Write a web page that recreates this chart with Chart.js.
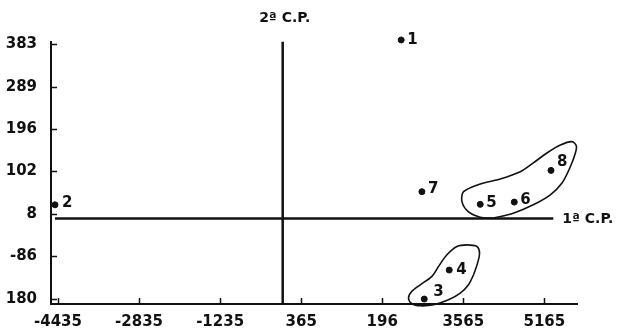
<!DOCTYPE html>
<html>
<head>
<meta charset="utf-8">
<script src="https://cdn.jsdelivr.net/npm/chart.js@4.4.1/dist/chart.umd.min.js"></script>
<style>
    html, body { margin: 0; padding: 0; background: #fff; }
</style>
</head>
<body>
<canvas id="pcaChart" width="619" height="330"></canvas>
<script>
// Scores of the 8 samples on the first two principal components
const pointLabels = ['1', '2', '3', '4', '5', '6', '7', '8'];
const pointX = [2339, -4494, 2794, 3287, 3899, 4571, 2748, 5296];
const pointY = [392, 28, -180, -116, 29, 34, 57, 104];

// Axis ticks (labels as printed in the original figure)
const xTickValues = [-4435, -2835, -1235, 365, 1965, 3565, 5165];
const xTickLabels = ['-4435', '-2835', '-1235', '365', '196', '3565', '5165'];
const yTickValues = [-180, -86, 8, 102, 196, 289, 383];
const yTickLabels = ['180', '-86', '8', '102', '196', '289', '383'];

// Component axes drawn through the origin
const pc1LineX = [-4494, 5341];
const pc1LineY = [-2, -2];
const pc2LineX = [0, 0];
const pc2LineY = [-191, 388];

// Hand-drawn group outlines (data units)
const groupAX = [4156, 4551, 4946, 5282, 5513, 5677, 5776, 5796, 5711, 5480, 5223, 4946, 4690, 4295, 3899, 3570, 3538, 3662, 3899, 4156];
const groupAY = [-1.5, 9.5, 28, 50, 76, 112, 142, 158, 167.5, 160, 143, 120.5, 101, 85, 74, 57, 35, 13, 0.7, -1.5];
const groupBX = [3767, 3846, 3885, 3834, 3637, 3439, 3242, 3076, 2946, 2715, 2550, 2483, 2550, 2715, 2977, 3273, 3505, 3668, 3767];
const groupBY = [-126.6, -100.8, -78.7, -64, -60.4, -64, -82.4, -108, -130, -148.6, -163, -178, -190.5, -195, -192.7, -181.7, -167, -148.6, -126.6];

// label offsets (px) next to each dot: [dx, dy]
const labelOffsets = [[6, 0], [7, -2], [9, -7], [7, 0], [6, -1], [6, -2], [6, -3], [6, -8]];

const FONT = '"DejaVu Sans", sans-serif';
const INK = '#111';

const toPoints = (xs, ys) => xs.map((x, i) => ({ x: x, y: ys[i] }));

// draws inner tick marks, point numbers and the component names
const annotate = {
    id: 'annotate',
    afterDraw(chart) {
        const ctx = chart.ctx;
        const xs = chart.scales.x;
        const ys = chart.scales.y;
        const area = chart.chartArea;
        ctx.save();
        ctx.strokeStyle = INK;
        ctx.lineWidth = 1.5;
        ctx.beginPath();
        xTickValues.forEach(v => {
            const px = Math.round(xs.getPixelForValue(v)) + 0.5;
            ctx.moveTo(px, area.bottom);
            ctx.lineTo(px, area.bottom - 6);
        });
        yTickValues.forEach(v => {
            const py = Math.round(ys.getPixelForValue(v)) + 0.5;
            ctx.moveTo(area.left, py);
            ctx.lineTo(area.left + 6, py);
        });
        ctx.stroke();

        ctx.fillStyle = INK;
        ctx.font = 'bold 15px ' + FONT;
        ctx.textAlign = 'left';
        ctx.textBaseline = 'middle';
        const meta = chart.getDatasetMeta(0);
        meta.data.forEach((pt, i) => {
            const off = labelOffsets[i];
            ctx.fillText(pointLabels[i], pt.x + off[0], pt.y + off[1]);
        });

        ctx.font = 'bold 14px ' + FONT;
        ctx.textAlign = 'center';
        ctx.fillText('2ª C.P.', xs.getPixelForValue(0) + 2, 18);
        ctx.textAlign = 'left';
        ctx.fillText('1ª C.P.', xs.getPixelForValue(pc1LineX[1]) + 9, ys.getPixelForValue(pc1LineY[1]) + 1);
        ctx.restore();
    }
};

const ctx = document.getElementById('pcaChart');
const lineStyle = {
    showLine: true,
    pointRadius: 0,
    borderColor: INK,
    borderWidth: 2,
    fill: false,
    clip: false
};

new Chart(ctx, {
    type: 'scatter',
    data: {
        datasets: [
            {
                label: 'Amostras',
                data: toPoints(pointX, pointY),
                backgroundColor: INK,
                borderColor: INK,
                pointRadius: 3,
                pointHoverRadius: 3,
                clip: false
            },
            Object.assign({ label: '1ª C.P.', data: toPoints(pc1LineX, pc1LineY) }, lineStyle, { borderWidth: 2.5 }),
            Object.assign({ label: '2ª C.P.', data: toPoints(pc2LineX, pc2LineY) }, lineStyle, { borderWidth: 2.5 }),
            Object.assign({ label: 'grupo A', data: toPoints(groupAX, groupAY), tension: 0.3 }, lineStyle, { borderWidth: 1.6 }),
            Object.assign({ label: 'grupo B', data: toPoints(groupBX, groupBY), tension: 0.3 }, lineStyle, { borderWidth: 1.6 })
        ]
    },
    options: {
        responsive: false,
        animation: false,
        layout: { padding: { top: 42, right: 42, left: 0, bottom: 0 } },
        elements: { line: { capBezierPoints: false } },
        scales: {
            x: {
                type: 'linear',
                min: -4573,
                max: 5809,
                afterBuildTicks: scale => {
                    scale.ticks = xTickValues.map(v => ({ value: v }));
                },
                afterFit: scale => { scale.height = 26; },
                grid: { display: false },
                border: { display: true, color: INK, width: 2 },
                ticks: {
                    autoSkip: false,
                    maxRotation: 0,
                    padding: 1,
                    color: INK,
                    font: { family: FONT, size: 15, weight: 'bold' },
                    callback: (value, index) => xTickLabels[index]
                }
            },
            y: {
                type: 'linear',
                min: -191,
                max: 387.5,
                afterBuildTicks: scale => {
                    scale.ticks = yTickValues.map(v => ({ value: v }));
                },
                afterFit: scale => { scale.width = 51; },
                grid: { display: false },
                border: { display: true, color: INK, width: 2 },
                ticks: {
                    autoSkip: false,
                    padding: 6,
                    color: INK,
                    font: { family: FONT, size: 15, weight: 'bold' },
                    callback: (value, index) => yTickLabels[index]
                }
            }
        },
        plugins: {
            legend: { display: false },
            tooltip: { enabled: false }
        }
    },
    plugins: [annotate]
});
</script>
</body>
</html>
